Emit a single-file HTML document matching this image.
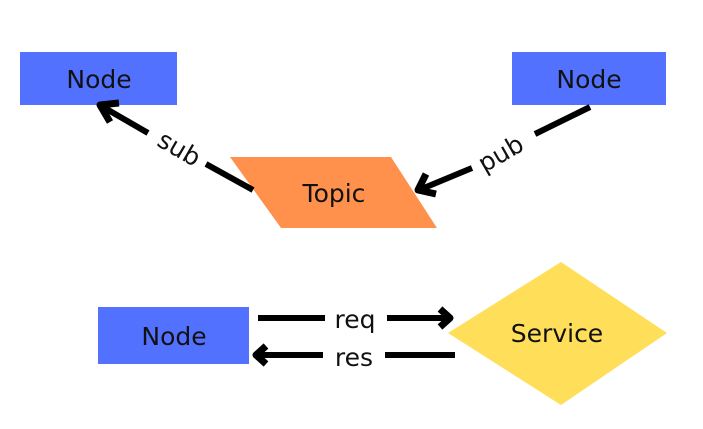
<!DOCTYPE html>
<html><head><style>
html,body{margin:0;padding:0;background:#fff;}
svg{display:block;}
text{font-family:"DejaVu Sans","Liberation Sans",sans-serif;font-size:25px;fill:#111;}
</style></head><body>
<svg width="703" height="429" viewBox="0 0 703 429" xmlns="http://www.w3.org/2000/svg">
<rect x="20" y="52" width="157" height="53" fill="#5271ff"/>
<rect x="512" y="52" width="154" height="53" fill="#5271ff"/>
<rect x="98" y="307" width="151" height="57" fill="#5271ff"/>
<polygon points="230,157 391,157 437,228 281,228" fill="#ff914d"/>
<polygon points="448,333 561,262 667,333 561,405" fill="#ffde59"/>
<text x="99" y="88" text-anchor="middle">Node</text>
<text x="589" y="88" text-anchor="middle">Node</text>
<text x="174" y="345" text-anchor="middle">Node</text>
<text x="334" y="202" text-anchor="middle">Topic</text>
<text x="557" y="342" text-anchor="middle">Service</text>
<g stroke="#000" stroke-width="6" fill="none" stroke-linecap="butt" stroke-linejoin="round">
<line x1="253" y1="190" x2="206" y2="164"/>
<line x1="148" y1="133" x2="103" y2="107"/>
<polyline points="110,122 100,105 119,103" stroke-width="7"/>
<line x1="590" y1="107" x2="535" y2="134"/>
<line x1="472" y1="168" x2="419" y2="190"/>
<polyline points="426,174 418,190 436,194" stroke-width="7"/>
<line x1="258" y1="318" x2="325" y2="318"/>
<line x1="387" y1="318" x2="448" y2="318"/>
<polyline points="440,309 450,318 440,327" stroke-width="7"/>
<line x1="455" y1="355" x2="385" y2="355"/>
<line x1="323" y1="355" x2="258" y2="355"/>
<polyline points="266,346 256,355 266,364" stroke-width="7"/>
</g>
<text x="0" y="0" text-anchor="middle" transform="translate(175,156) rotate(30)">sub</text>
<text x="0" y="0" text-anchor="middle" transform="translate(505,161) rotate(-30)">pub</text>
<text x="355" y="328" text-anchor="middle">req</text>
<text x="354" y="366" text-anchor="middle">res</text>
</svg>
</body></html>
